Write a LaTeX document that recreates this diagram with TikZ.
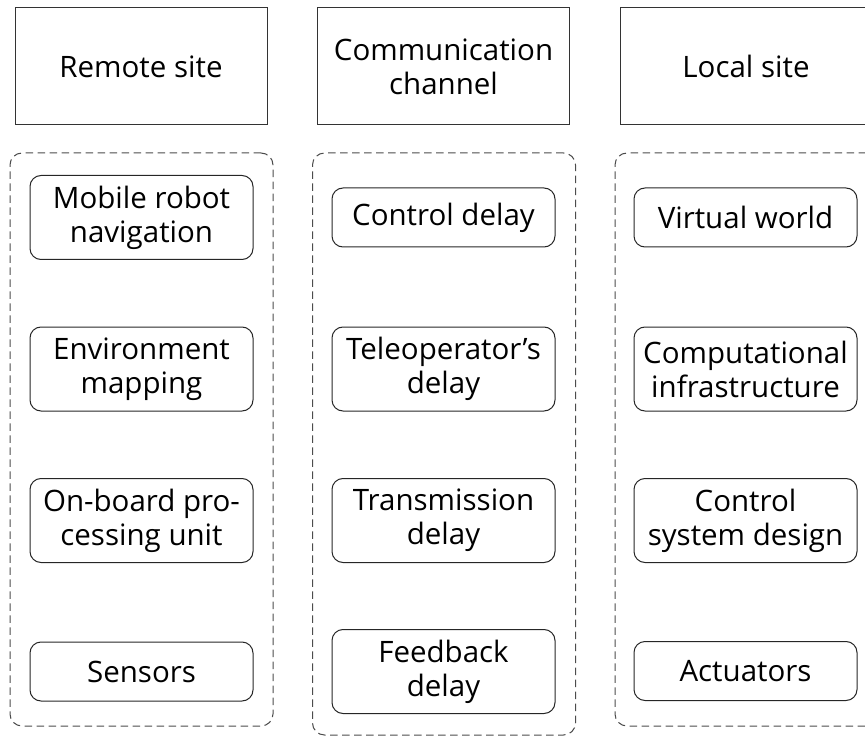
\documentclass[tikz,border=0pt]{standalone}
\usepackage{fontspec}
\setmainfont{Open Sans}
\begin{document}
\begin{tikzpicture}[x=1pt,y=-1pt,
  every node/.style={font=\fontsize{29.5}{34}\selectfont, align=center, inner sep=0pt},
  header/.style={draw=black!80, line width=1pt, rectangle, minimum width=252pt, minimum height=117pt},
  group/.style={draw=black!70, line width=1pt, dash pattern=on 7.5pt off 4.5pt, rounded corners=12pt, rectangle, minimum width=263pt},
  item/.style={draw=black!85, line width=1pt, rounded corners=11pt, rectangle, minimum width=223pt},
  one/.style={item, minimum height=59pt},
  two/.style={item, minimum height=84pt}]
  \useasboundingbox (0,0) rectangle (865,738);

  % column headers
  \node[header] (remote) at (141,66.5) {Remote site};
  \node[header] (channel) at (443.5,66.5) {Communication\\channel};
  \node[header] (local) at (746,66.5) {Local site};

  % dashed groups
  \node[group, minimum height=573pt] (remotegroup) at (141.5,439.5) {};
  \node[group, minimum height=582pt] (channelgroup) at (444,444) {};
  \node[group, minimum height=573pt] (localgroup) at (746.5,439.5) {};

  % remote site
  \node[two] (nav) at (141.5,217.5) {Mobile robot\\navigation};
  \node[two] (map) at (141.5,369) {Environment\\mapping};
  \node[two] (cpu) at (141.5,520.5) {On-board pro-\\cessing unit};
  \node[one] (sens) at (141.5,671.5) {Sensors};

  % communication channel
  \node[one] (ctrl) at (443.5,217.5) {Control delay};
  \node[two] (tele) at (443.5,369) {Teleoperator’s\\delay};
  \node[two] (trans) at (443.5,520.5) {Transmission\\delay};
  \node[two] (feed) at (443.5,671.5) {Feedback\\delay};

  % local site
  \node[one] (virt) at (745.5,217.5) {Virtual world};
  \node[two] (infra) at (745.5,369) {Computational\\infrastructure};
  \node[two] (design) at (745.5,520.5) {Control\\system design};
  \node[one] (act) at (745.5,671) {Actuators};
\end{tikzpicture}
\end{document}
